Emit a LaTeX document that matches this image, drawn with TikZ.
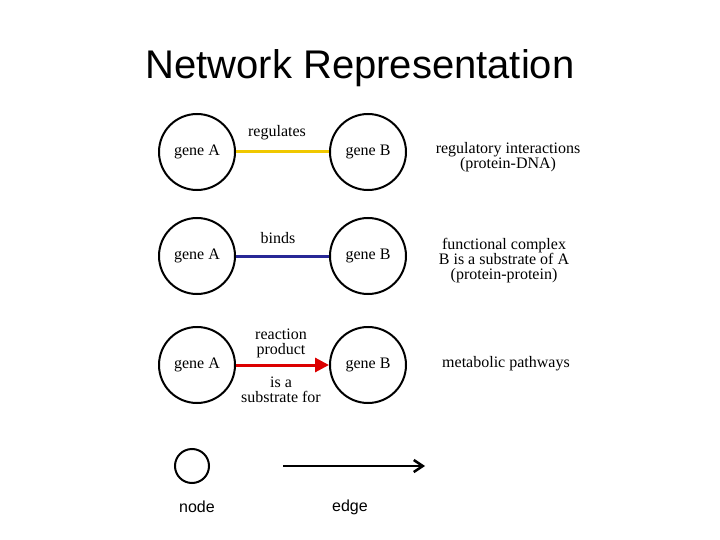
\documentclass[tikz,border=0pt]{standalone}
\usepackage{fontspec}
\setmainfont{Liberation Serif}
\newfontfamily\arialfont{Liberation Sans}
\usetikzlibrary{arrows.meta}

\tikzset{
  gene/.style={circle, draw, line width=2pt, minimum size=76pt, inner sep=0pt, font=\fontsize{16}{16}\selectfont},
  lbl/.style={font=\fontsize{16}{15}\selectfont, align=center, inner sep=0.75pt},
  link/.style={line width=3pt}
}

\begin{document}
\begin{tikzpicture}[x=1pt,y=1pt,yscale=-1,xscale=1]
    \useasboundingbox (0,0) rectangle (720,540);

    \node [font=\arialfont\fontsize{40}{40}\selectfont] (title) at (360,68) {Network Representation};

    % nodes
    \node [gene] (a1) at (197,152) {gene A};
    \node [gene] (b1) at (368,152) {gene B};
    \node [gene] (a2) at (197,256) {gene A};
    \node [gene] (b2) at (368,256) {gene B};
    \node [gene] (a3) at (197,365) {gene A};
    \node [gene] (b3) at (368,365) {gene B};
    \node [circle, draw, line width=2pt, minimum size=34pt] (nd) at (192,466) {};
    \coordinate (e0) at (283,466);
    \coordinate (e1) at (425,466);

    % edges
    \draw [link, color={rgb,255:red,240;green,200;blue,0}] (a1) -- (b1);
    \draw [link, color={rgb,255:red,40;green,40;blue,150}] (a2) -- (b2);
    \draw [link, color={rgb,255:red,220;green,0;blue,0}, -{Triangle[length=14pt,width=14pt]}] (a3) -- (b3);
    \draw [line width=2.5pt, -{Straight Barb[length=9pt,width=12pt]}] (e0) -- (e1);

    % labels
    \node [lbl] (r1) at (277,133) {regulates};
    \node [lbl] (r2) at (278,238) {binds};
    \node [lbl] (r3) at (281,343) {reaction\\product};
    \node [lbl] (r3b) at (281,390) {is a\\substrate for};
    \node [lbl] (d1) at (508,157) {regulatory interactions\\(protein-DNA)};
    \node [lbl] (d2) at (504,261) {functional complex\\B is a substrate of A\\(protein-protein)};
    \node [lbl] (d3) at (506,364) {metabolic pathways};
    \node [font=\arialfont\fontsize{16}{16}\selectfont] (t1) at (197,507) {node};
    \node [font=\arialfont\fontsize{16}{16}\selectfont] (t2) at (350,507) {edge};
\end{tikzpicture}
\end{document}
